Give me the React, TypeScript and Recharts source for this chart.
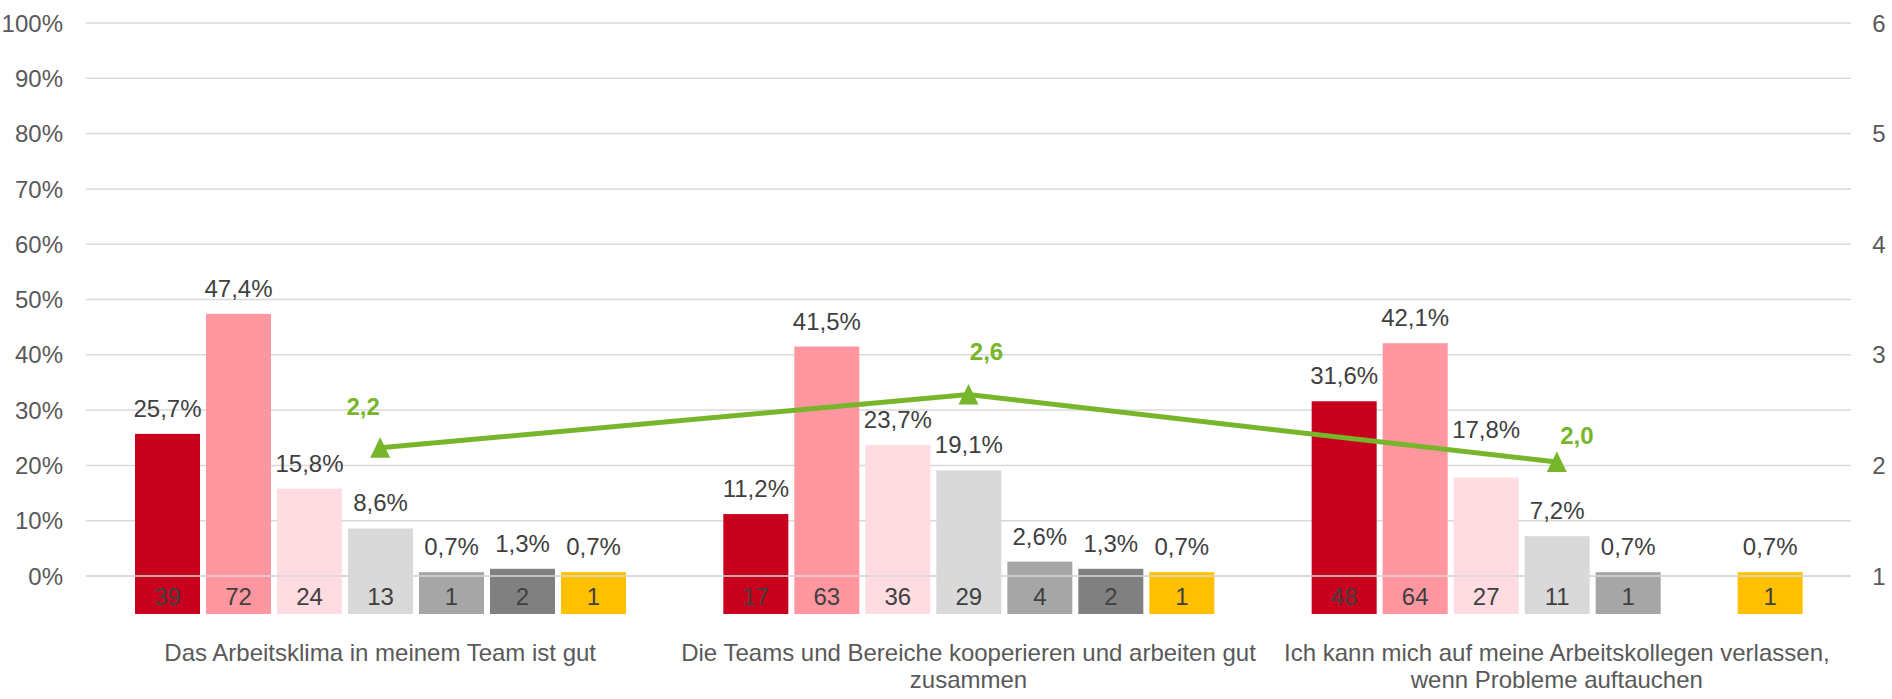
import React from 'react';
import { ComposedChart, Bar, Line, XAxis, YAxis, CartesianGrid, ReferenceLine } from 'recharts';

const categories = [
  'Das Arbeitsklima in meinem Team ist gut',
  'Die Teams und Bereiche kooperieren und arbeiten gut\nzusammen',
  'Ich kann mich auf meine Arbeitskollegen verlassen,\nwenn Probleme auftauchen',
];

// share of answers per option (%)
const option1Pct = [25.7, 11.2, 31.6];
const option2Pct = [47.4, 41.5, 42.1];
const option3Pct = [15.8, 23.7, 17.8];
const option4Pct = [8.6, 19.1, 7.2];
const option5Pct = [0.7, 2.6, 0.7];
const option6Pct = [1.3, 1.3, null];
const noAnswerPct = [0.7, 0.7, 0.7];

// number of answers per option
const option1Count = [39, 17, 48];
const option2Count = [72, 63, 64];
const option3Count = [24, 36, 27];
const option4Count = [13, 29, 11];
const option5Count = [1, 4, 1];
const option6Count = [2, 2, null];
const noAnswerCount = [1, 1, 1];

// mean score (right axis)
const meanScore = [2.16, 2.64, 2.03];

const leftTicks = [0, 10, 20, 30, 40, 50, 60, 70, 80, 90, 100];
const rightTicks = [1, 2, 3, 4, 5, 6];

const SERIES = [
  { pct: option1Pct, count: option1Count, color: '#C8001E' },
  { pct: option2Pct, count: option2Count, color: '#FF96A0' },
  { pct: option3Pct, count: option3Count, color: '#FFDCE1' },
  { pct: option4Pct, count: option4Count, color: '#D9D9D9' },
  { pct: option5Pct, count: option5Count, color: '#A6A6A6' },
  { pct: option6Pct, count: option6Count, color: '#808080' },
  { pct: noAnswerPct, count: noAnswerCount, color: '#FFC000' },
];

const data = categories.map((name, i) => {
  const row: any = { name, mean: meanScore[i] };
  SERIES.forEach((s, k) => {
    row['p' + k] = s.pct[i];
    row['c' + k] = s.count[i];
  });
  return row;
});

const FONT = '"Liberation Sans", Arial, sans-serif';
const GREEN = '#77B52B';
const TEXT = '#404040';
const AXIS_TEXT = '#595959';
const GRID = '#D9D9D9';
const BOX_DEPTH = 38;

// a few labels were nudged up by hand in the original (category-series)
const LABEL_LIFT: Record<string, number> = { '2-2': 23 };

const fmt = (v: number) => v.toFixed(1).replace('.', ',');

// bar with a count box hanging below the zero line
function makeBarShape(k: number) {
  return (props: any) => {
    const { x, y, width, height, fill, payload, index } = props;
    const pct = payload ? payload['p' + k] : null;
    if (pct == null || !width) return <g />;
    const base = y + height;
    const lift = LABEL_LIFT[`${index}-${k}`] || 0;
    return (
      <g>
        <rect x={x} y={y} width={width} height={height + BOX_DEPTH} fill={fill} />
        <text x={x + width / 2} y={y - 17 - lift} textAnchor="middle" fontSize={24} fill={TEXT} fontFamily={FONT}>
          {fmt(pct)}%
        </text>
        <text x={x + width / 2} y={base + BOX_DEPTH / 2 + 1} dy="0.36em" textAnchor="middle" fontSize={24} fill={TEXT} fontFamily={FONT}>
          {payload['c' + k]}
        </text>
      </g>
    );
  };
}

const TriangleDot = (props: any) => {
  const { cx, cy, index } = props;
  if (cx == null || cy == null) return <g key={index} />;
  return <path key={index} d={`M${cx},${cy - 10.5} L${cx + 10},${cy + 10} L${cx - 10},${cy + 10} Z`} fill={GREEN} />;
};

const MEAN_LABEL_SHIFT = [[-17, -41], [18, -43], [20, -27]];

const renderMeanLabel = (props: any) => {
  const { x, y, value, index } = props;
  const [dx, dy] = MEAN_LABEL_SHIFT[index] || [0, -40];
  return (
    <text key={index} x={x + dx} y={y + dy} dy="0.36em" textAnchor="middle" fontSize={24} fontWeight="bold" fill={GREEN} fontFamily={FONT}>
      {fmt(value)}
    </text>
  );
};

const LeftTick = (props: any) => {
  const { x, y, payload } = props;
  return (
    <text x={x - 23} y={y} dy="0.36em" textAnchor="end" fontSize={24} fill={AXIS_TEXT} fontFamily={FONT}>
      {payload.value}%
    </text>
  );
};

const RightTick = (props: any) => {
  const { x, y, payload } = props;
  return (
    <text x={x + 28} y={y} dy="0.36em" textAnchor="middle" fontSize={24} fill={AXIS_TEXT} fontFamily={FONT}>
      {payload.value}
    </text>
  );
};

const CategoryTick = (props: any) => {
  const { x, y, payload } = props;
  const lines = String(payload.value).split('\n');
  return (
    <text textAnchor="middle" fontSize={24} fill={AXIS_TEXT} fontFamily={FONT}>
      {lines.map((line, i) => (
        <tspan key={i} x={x} y={y + 85 + i * 27}>
          {line}
        </tspan>
      ))}
    </text>
  );
};

export default function App() {
  return (
    <div style={{ position: 'absolute', left: 0, top: 0, width: 1892, height: 699, background: '#fff' }}>
      <ComposedChart
        width={1892}
        height={699}
        data={data}
        margin={{ top: 23, right: 0, bottom: 0, left: 0 }}
        barSize={65}
        barGap={6}
      >
        <CartesianGrid yAxisId="left" vertical={false} stroke={GRID} strokeWidth={1.5} />
        <XAxis
          dataKey="name"
          height={123}
          axisLine={false}
          tickLine={false}
          tickSize={0}
          tickMargin={0}
          interval={0}
          tick={<CategoryTick />}
        />
        <YAxis
          yAxisId="left"
          width={86}
          domain={[0, 100]}
          ticks={leftTicks}
          axisLine={false}
          tickLine={false}
          tickSize={0}
          tickMargin={0}
          tick={<LeftTick />}
        />
        <YAxis
          yAxisId="right"
          orientation="right"
          width={41}
          domain={[1, 6]}
          ticks={rightTicks}
          axisLine={false}
          tickLine={false}
          tickSize={0}
          tickMargin={0}
          tick={<RightTick />}
        />
        {SERIES.map((s, k) => (
          <Bar
            key={k}
            yAxisId="left"
            dataKey={'p' + k}
            fill={s.color}
            shape={makeBarShape(k)}
            isAnimationActive={false}
          />
        ))}
        <ReferenceLine yAxisId="left" y={0} stroke={GRID} strokeWidth={1.5} />
        <Line
          yAxisId="right"
          dataKey="mean"
          type="linear"
          stroke={GREEN}
          strokeWidth={5}
          dot={<TriangleDot />}
          activeDot={false}
          label={renderMeanLabel}
          isAnimationActive={false}
        />
      </ComposedChart>
    </div>
  );
}
